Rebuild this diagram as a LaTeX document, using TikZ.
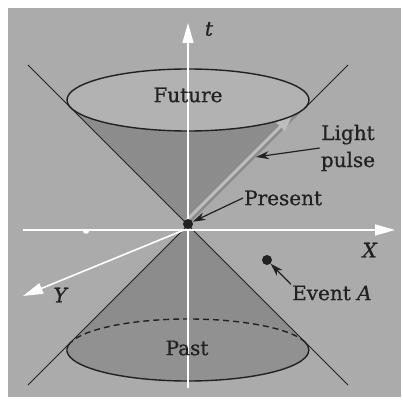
\documentclass[tikz,border=0pt]{standalone}
\usepackage{fontspec}
\setmainfont{DejaVu Serif}[UprightFeatures={FakeBold=0.7}, ItalicFeatures={FakeBold=0.7}]
\usetikzlibrary{arrows.meta}
\definecolor{bggray}{gray}{0.67}
\definecolor{conegray}{gray}{0.55}
\definecolor{topgray}{gray}{0.70}
\definecolor{pastgray}{gray}{0.57}
\definecolor{pulsegray}{gray}{0.74}
\definecolor{ink}{gray}{0.13}

\begin{document}
\begin{tikzpicture}[x=1pt,y=1pt,
    axis/.style={white, line width=1.6pt, -{Triangle[length=20pt,width=11pt]}},
    edge/.style={ink, line width=1pt},
    rim/.style={ink, line width=1.4pt},
    ptr/.style={ink, line width=1.2pt, -{Stealth[length=13pt,width=8pt]}},
    pulse/.style={pulsegray, line width=3pt, -{Triangle[length=18pt,width=12pt]}},
    dot/.style={circle, fill=ink, inner sep=0pt, minimum size=10pt},
    lbl/.style={font=\fontsize{20}{27}\selectfont, text=ink, inner sep=1pt}]

        % Frame
        \useasboundingbox (-188,-182) rectangle (214,225);
        \fill[white] (-188,-182) rectangle (214,225);
        \fill[bggray] (-180,-172) rectangle (213,217);

        % Past cone
        \fill[conegray] (0,0) -- (-117.2,-117.2)
            arc[start angle=165.43, end angle=374.57, x radius=121, y radius=31] -- cycle;
        \fill[pastgray] (0,-125) ellipse[x radius=121, y radius=31];

        % Future cone
        \fill[conegray] (0,0) -- (-117.2,117.2)
            arc[start angle=194.57, end angle=345.43, x radius=121, y radius=31] -- cycle;
        \fill[topgray] (0,125) ellipse[x radius=121, y radius=31];

        % Light pulse along the cone edge
        \coordinate (lp0) at (-2,4);
        \coordinate (lp1) at (105,111);
        \draw[pulse] (lp0) -- (lp1);

        % Rims
        \draw[rim] (0,125) ellipse[x radius=121, y radius=31];
        \draw[rim, dash pattern=on 6pt off 4pt] (117.2,-117.2)
            arc[start angle=14.57, end angle=165.43, x radius=121, y radius=31];
        \draw[rim] (-117.2,-117.2)
            arc[start angle=165.43, end angle=374.57, x radius=121, y radius=31];

        % Cone edges
        \draw[edge] (-160,160) -- (160,-160);
        \draw[edge] (160,160) -- (117,117);
        \draw[edge] (0,0) -- (-160,-160);

        % Axes
        \coordinate (o) at (-4,-5);
        \coordinate (tbot) at (0,-163);
        \coordinate (ttop) at (0,202);
        \coordinate (xl) at (-165,-5);
        \coordinate (xr) at (207,-5);
        \coordinate (yend) at (-165,-71);
        \draw[white, line width=1.6pt] (tbot) -- (0,180);
        \draw[axis] (0,150) -- (ttop);
        \draw[axis] (xl) -- (xr);
        \draw[axis] (o) -- (yend);
        \fill[white] (-102,-6.5) ellipse[x radius=3, y radius=2.2];

        % Events
        \node[dot] (present) at (0,1) {};
        \node[dot] (eventA) at (79,-35) {};

        % Labels
        \node[lbl] (future) at (0,130) {Future};
        \node[lbl] (past) at (-1,-123) {Past};
        \node[lbl] (tlbl) at (21,196) {\textit{t}};
        \node[lbl] (xlbl) at (182,-25) {\textit{X}};
        \node[lbl] (ylbl) at (-127,-70) {\textit{Y}};
        \node[lbl, anchor=west] (presentlbl) at (55,27) {Present};
        \node[lbl, align=center] (pulselbl) at (160,77) {Light\\pulse};
        \node[lbl, anchor=west] (evlbl) at (103,-68) {Event \textit{A}};

        % Pointers
        \coordinate (lphit) at (68,68);
        \draw[ptr] (pulselbl.west) -- (lphit);
        \draw[ptr] (presentlbl.west) -- (present);
        \draw[ptr] (evlbl.north west) -- (eventA);

\end{tikzpicture}
\end{document}
